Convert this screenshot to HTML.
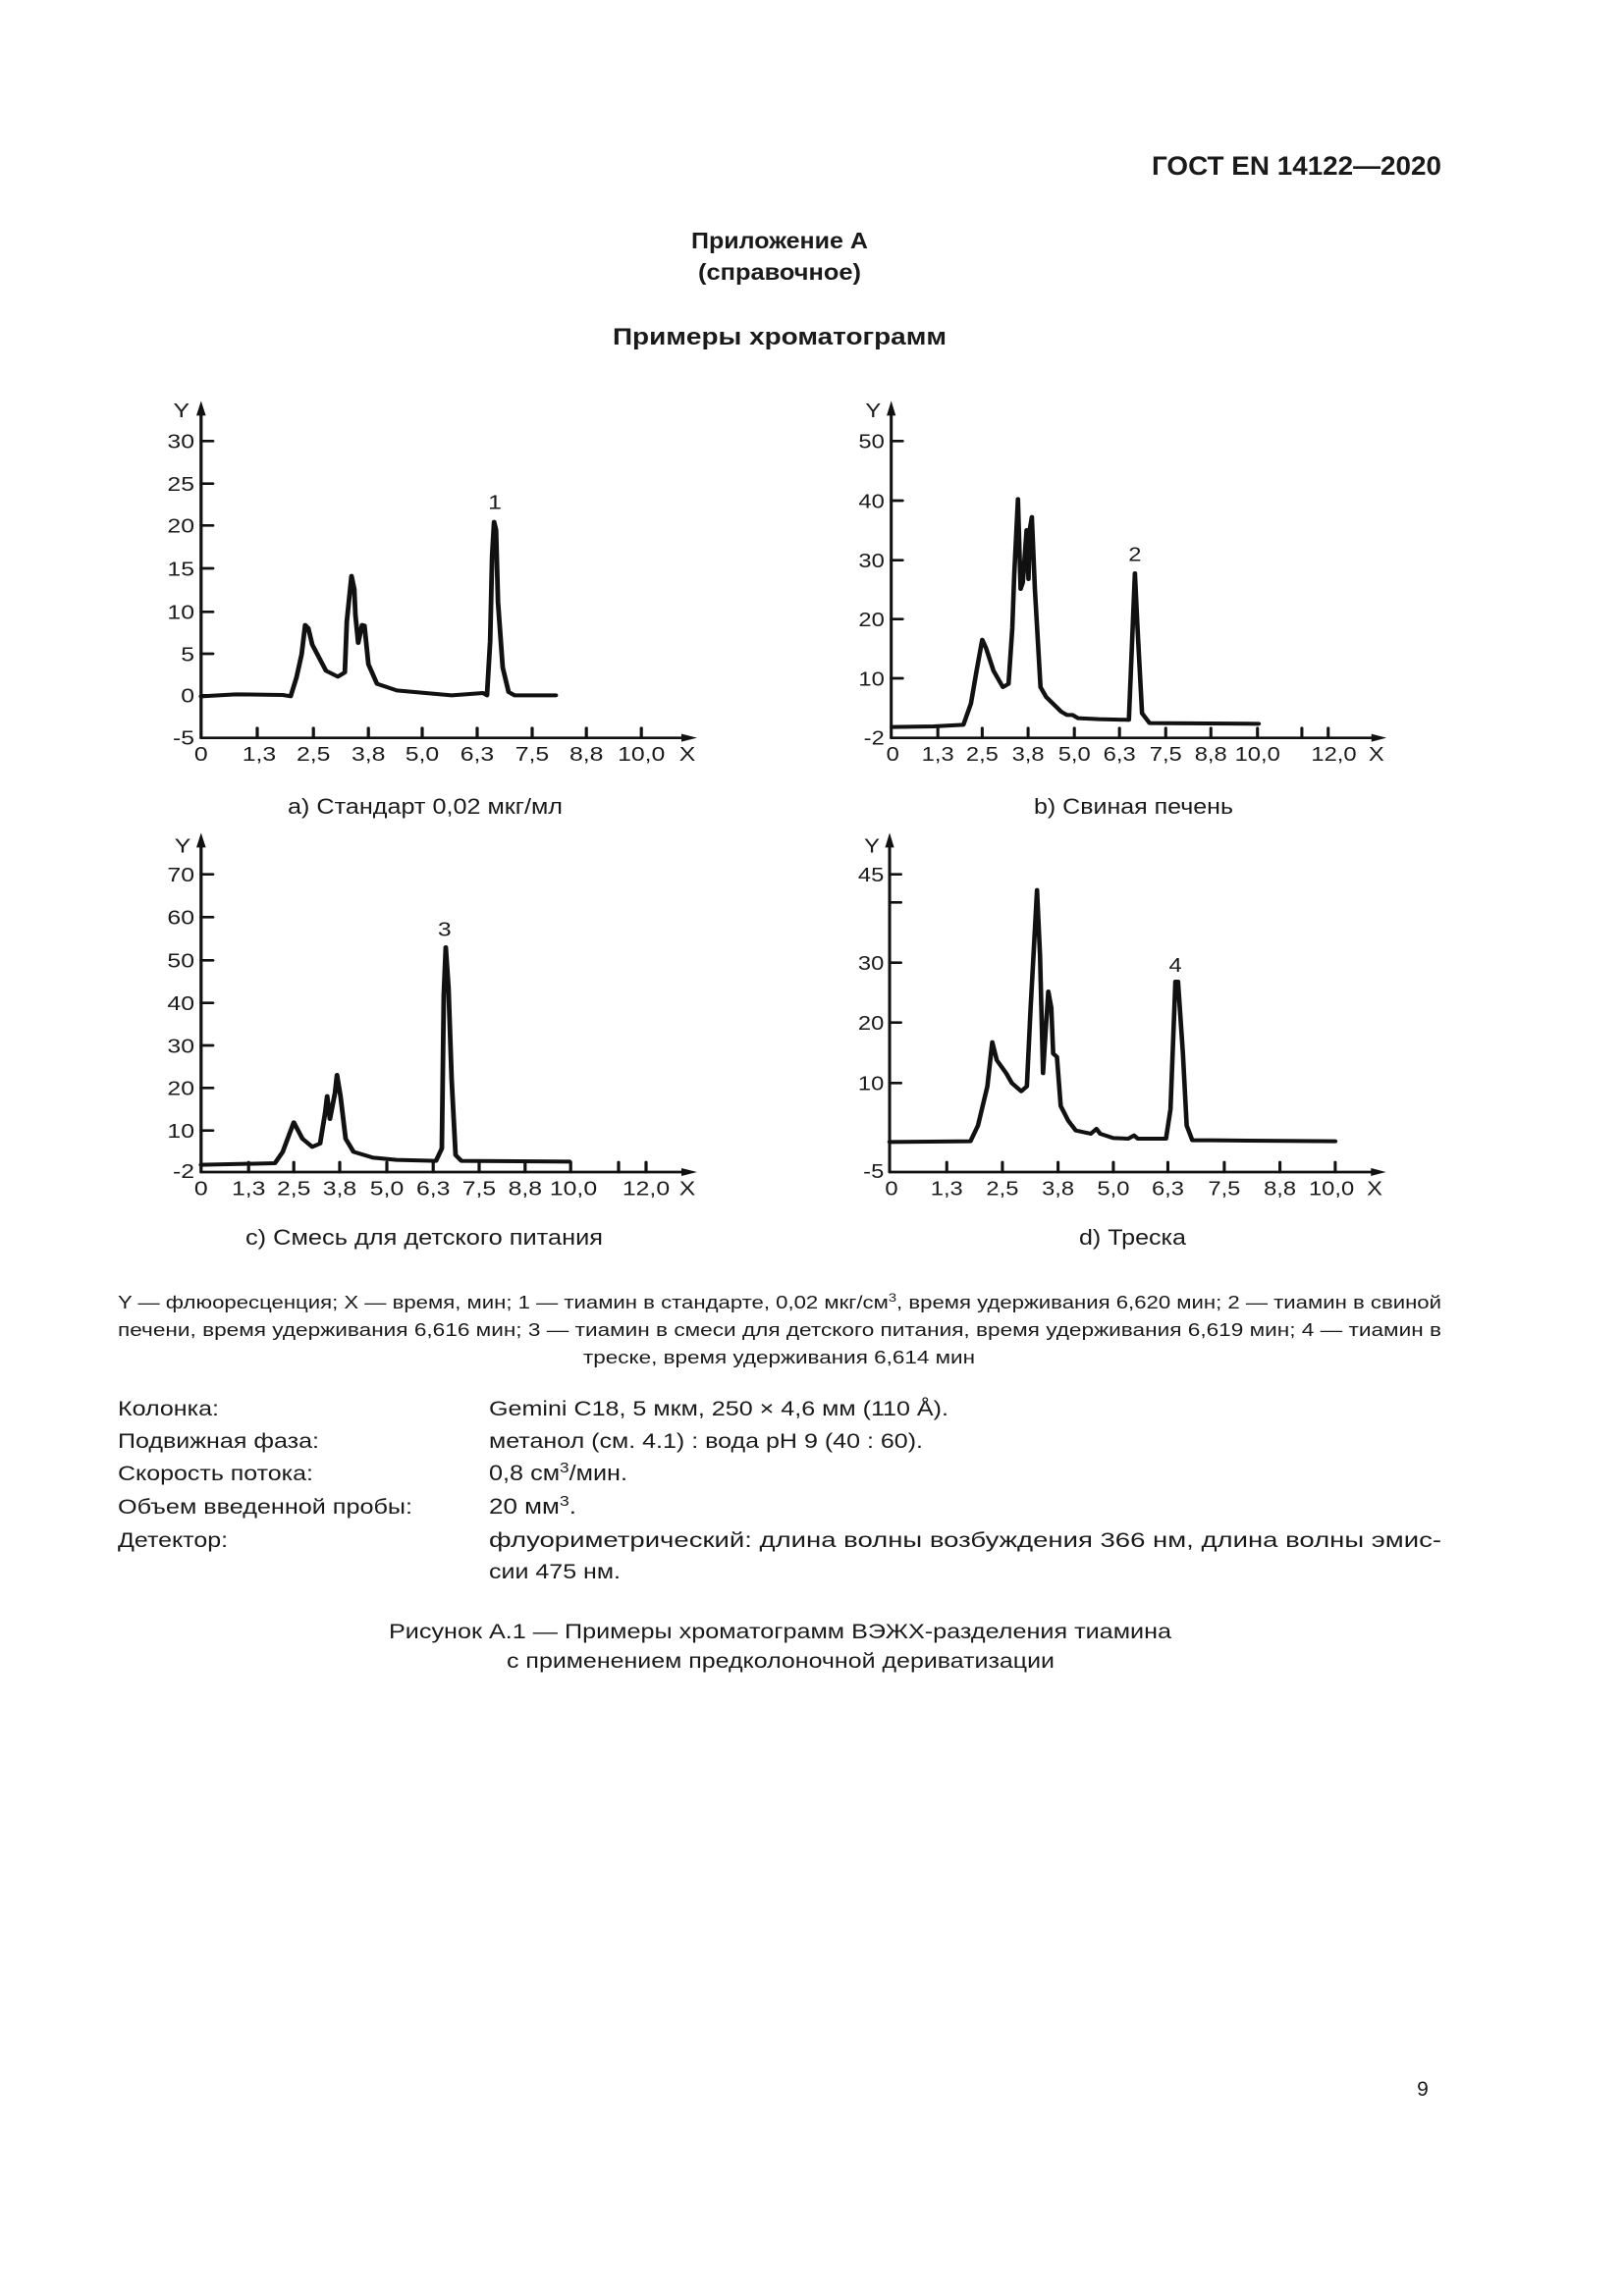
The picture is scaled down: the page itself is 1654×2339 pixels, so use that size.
<!DOCTYPE html>
<html><head><meta charset="utf-8"><style>
html,body{margin:0;padding:0;background:#fff}
svg{display:block}
text{font-family:"Liberation Sans",Arial,sans-serif;fill:#1a1a1a}
.b{font-weight:bold}
</style></head><body>
<svg width="1654" height="2339" viewBox="0 0 1654 2339" xmlns="http://www.w3.org/2000/svg">
<rect width="1654" height="2339" fill="#fff"/>
<text class="b" x="1173" y="178" font-size="27" textLength="295" lengthAdjust="spacingAndGlyphs">ГОСТ EN 14122—2020</text>
<text class="b" x="704" y="253" font-size="23" textLength="180" lengthAdjust="spacingAndGlyphs">Приложение А</text>
<text class="b" x="711" y="285" font-size="23" textLength="166" lengthAdjust="spacingAndGlyphs">(справочное)</text>
<text class="b" x="624" y="351" font-size="24" textLength="340" lengthAdjust="spacingAndGlyphs">Примеры хроматограмм</text>

<g fill="none" stroke="#111" stroke-linejoin="round" stroke-linecap="round">
<!-- Chart a -->
<g transform="translate(100,400) scale(0.4,0.33333)">
 <g stroke-width="8">
  <line x1="262" y1="1055" x2="262" y2="45"/>
  <line x1="262" y1="1055" x2="1495" y2="1055"/>
  <path d="M262 148h30M262 278h30M262 406h30M262 537h30M262 670h30M262 798h30M262 925h30"/>
  <path d="M405 1025v30M548 1025v30M688 1025v30M825 1025v30M965 1025v30M1105 1025v30M1243 1025v30M1383 1025v30"/>
 </g>
 <polygon points="262,25 250,70 274,70" fill="#111" stroke="none"/>
 <polygon points="1525,1055 1485,1043 1485,1067" fill="#111" stroke="none"/>
 <polyline stroke-width="12" points="262,928 350,922 470,924 490,928 505,870 518,800 527,710 535,720 545,770 580,850 610,868 628,855 633,700 645,560 652,600 655,680 662,765 672,710 678,712 688,830 710,890 760,910 900,925 980,918 990,925 998,760 1003,500 1008,395 1013,420 1018,640 1030,840 1045,915 1060,925 1165,925"/>
</g>
<!-- Chart b -->
<g transform="translate(851,400) scale(0.383,0.33333)">
 <g stroke-width="8">
  <line x1="148" y1="1055" x2="148" y2="45"/>
  <line x1="148" y1="1055" x2="1435" y2="1055"/>
  <path d="M148 148h30M148 330h30M148 512h30M148 692h30M148 873h30"/>
  <path d="M272 1025v30M390 1025v30M512 1025v30M635 1025v30M755 1025v30M878 1025v30M998 1025v30M1122 1025v30M1240 1025v30M1310 1025v30"/>
 </g>
 <polygon points="148,25 136,70 160,70" fill="#111" stroke="none"/>
 <polygon points="1465,1055 1425,1043 1425,1067" fill="#111" stroke="none"/>
 <polyline stroke-width="12" points="150,1022 260,1020 340,1015 360,950 375,850 390,755 400,780 420,850 445,900 460,890 470,720 475,560 485,325 492,600 498,580 508,420 513,570 517,415 522,380 530,600 545,900 560,930 600,975 615,985 630,985 645,995 700,998 780,1000 790,720 796,552 803,720 815,980 835,1010 1125,1012"/>
</g>
<!-- Chart c -->
<g transform="translate(100,840) scale(0.4,0.33333)">
 <g stroke-width="8">
  <line x1="262" y1="1062" x2="262" y2="45"/>
  <line x1="262" y1="1062" x2="1495" y2="1062"/>
  <path d="M262 152h30M262 283h30M262 415h30M262 545h30M262 675h30M262 805h30M262 935h30"/>
  <path d="M383 1032v30M498 1032v30M615 1032v30M735 1032v30M853 1032v30M970 1032v30M1087 1032v30M1203 1032v30M1325 1032v30M1395 1032v30"/>
 </g>
 <polygon points="262,25 250,70 274,70" fill="#111" stroke="none"/>
 <polygon points="1525,1062 1485,1050 1485,1074" fill="#111" stroke="none"/>
 <polyline stroke-width="12" points="262,1040 450,1035 470,1000 498,910 520,960 545,985 565,975 578,880 583,830 590,900 603,820 608,765 617,830 630,960 650,1000 700,1018 760,1025 860,1028 875,990 880,520 885,375 892,500 900,780 910,1010 925,1028 1200,1030"/>
</g>
<!-- Chart d -->
<g transform="translate(850.5,840) scale(0.383,0.33333)">
 <g stroke-width="8">
  <line x1="145" y1="1062" x2="145" y2="45"/>
  <line x1="145" y1="1062" x2="1435" y2="1062"/>
  <path d="M145 152h30M145 238h30M145 422h30M145 605h30M145 790h30"/>
  <path d="M297 1032v30M445 1032v30M593 1032v30M740 1032v30M885 1032v30M1035 1032v30M1183 1032v30M1330 1032v30"/>
 </g>
 <polygon points="145,25 133,70 157,70" fill="#111" stroke="none"/>
 <polygon points="1465,1062 1425,1050 1425,1074" fill="#111" stroke="none"/>
 <polyline stroke-width="12" points="145,970 360,968 380,920 405,800 418,665 430,720 455,760 470,790 495,815 510,800 520,560 530,350 537,200 545,400 553,760 560,630 567,510 575,560 580,700 590,710 600,860 620,905 640,935 680,945 695,930 705,945 740,958 780,960 795,950 805,960 880,960 892,870 905,480 912,480 925,700 935,920 950,965 1000,965 1330,968"/>
</g>
</g>

<!-- Chart labels -->
<g font-size="62" text-anchor="middle">
<g transform="translate(100,400) scale(0.4,0.33333)">
 <text x="212" y="75">Y</text>
 <g text-anchor="end"><text x="245" y="170">30</text><text x="245" y="300">25</text><text x="245" y="428">20</text><text x="245" y="559">15</text><text x="245" y="692">10</text><text x="245" y="820">5</text><text x="245" y="947">0</text><text x="245" y="1075">-5</text></g>
 <text x="262" y="1125">0</text><text x="410" y="1125">1,3</text><text x="548" y="1125">2,5</text><text x="688" y="1125">3,8</text><text x="825" y="1125">5,0</text><text x="965" y="1125">6,3</text><text x="1105" y="1125">7,5</text><text x="1243" y="1125">8,8</text><text x="1383" y="1125">10,0</text><text x="1500" y="1125">X</text>
 <text x="1010" y="355">1</text>
</g>
<g transform="translate(851,400) scale(0.383,0.33333)">
 <text x="100" y="75">Y</text>
 <g text-anchor="end"><text x="130" y="170">50</text><text x="130" y="352">40</text><text x="130" y="534">30</text><text x="130" y="714">20</text><text x="130" y="895">10</text><text x="130" y="1075">-2</text></g>
 <text x="152" y="1125">0</text><text x="272" y="1125">1,3</text><text x="390" y="1125">2,5</text><text x="512" y="1125">3,8</text><text x="635" y="1125">5,0</text><text x="755" y="1125">6,3</text><text x="878" y="1125">7,5</text><text x="998" y="1125">8,8</text><text x="1122" y="1125">10,0</text><text x="1325" y="1125">12,0</text><text x="1438" y="1125">X</text>
 <text x="796" y="515">2</text>
</g>
<g transform="translate(100,840) scale(0.4,0.33333)">
 <text x="215" y="85">Y</text>
 <g text-anchor="end"><text x="245" y="174">70</text><text x="245" y="305">60</text><text x="245" y="437">50</text><text x="245" y="567">40</text><text x="245" y="697">30</text><text x="245" y="827">20</text><text x="245" y="957">10</text><text x="245" y="1080">-2</text></g>
 <text x="262" y="1132">0</text><text x="383" y="1132">1,3</text><text x="498" y="1132">2,5</text><text x="615" y="1132">3,8</text><text x="735" y="1132">5,0</text><text x="853" y="1132">6,3</text><text x="970" y="1132">7,5</text><text x="1087" y="1132">8,8</text><text x="1210" y="1132">10,0</text><text x="1395" y="1132">12,0</text><text x="1500" y="1132">X</text>
 <text x="882" y="340">3</text>
</g>
<g transform="translate(850.5,840) scale(0.383,0.33333)">
 <text x="98" y="85">Y</text>
 <g text-anchor="end"><text x="130" y="174">45</text><text x="130" y="444">30</text><text x="130" y="627">20</text><text x="130" y="812">10</text><text x="130" y="1080">-5</text></g>
 <text x="150" y="1132">0</text><text x="297" y="1132">1,3</text><text x="445" y="1132">2,5</text><text x="593" y="1132">3,8</text><text x="740" y="1132">5,0</text><text x="885" y="1132">6,3</text><text x="1035" y="1132">7,5</text><text x="1183" y="1132">8,8</text><text x="1320" y="1132">10,0</text><text x="1435" y="1132">X</text>
 <text x="905" y="450">4</text>
</g>
</g>

<g font-size="22">
<text x="293" y="829" textLength="280" lengthAdjust="spacingAndGlyphs">a) Стандарт 0,02 мкг/мл</text>
<text x="1053" y="829" textLength="203" lengthAdjust="spacingAndGlyphs">b) Свиная печень</text>
<text x="250" y="1268" textLength="364" lengthAdjust="spacingAndGlyphs">c) Смесь для детского питания</text>
<text x="1099" y="1268" textLength="109" lengthAdjust="spacingAndGlyphs">d) Треска</text>
</g>

<g font-size="18">
<text x="120" y="1333" textLength="1348" lengthAdjust="spacingAndGlyphs">Y — флюоресценция; X — время, мин; 1 — тиамин в стандарте, 0,02 мкг/см<tspan font-size="12" dy="-7">3</tspan><tspan dy="7">, время удерживания 6,620 мин; 2 — тиамин в свиной</tspan></text>
<text x="120" y="1361" textLength="1348" lengthAdjust="spacingAndGlyphs">печени, время удерживания 6,616 мин; 3 — тиамин в смеси для детского питания, время удерживания 6,619 мин; 4 — тиамин в</text>
<text x="594" y="1389" textLength="399" lengthAdjust="spacingAndGlyphs">треске, время удерживания 6,614 мин</text>
</g>

<g font-size="21">
<text x="120" y="1442" textLength="103" lengthAdjust="spacingAndGlyphs">Колонка:</text>
<text x="120" y="1475" textLength="205" lengthAdjust="spacingAndGlyphs">Подвижная фаза:</text>
<text x="120" y="1508" textLength="199" lengthAdjust="spacingAndGlyphs">Скорость потока:</text>
<text x="120" y="1542" textLength="300" lengthAdjust="spacingAndGlyphs">Объем введенной пробы:</text>
<text x="120" y="1576" textLength="112" lengthAdjust="spacingAndGlyphs">Детектор:</text>
<text x="498" y="1442" textLength="468" lengthAdjust="spacingAndGlyphs">Gemini C18, 5 мкм, 250 × 4,6 мм (110 Å).</text>
<text x="498" y="1475" textLength="442" lengthAdjust="spacingAndGlyphs">метанол (см. 4.1) : вода pH 9 (40 : 60).</text>
<text x="498" y="1508" font-size="22" textLength="141" lengthAdjust="spacingAndGlyphs">0,8 см<tspan font-size="15" dy="-8">3</tspan><tspan font-size="22" dy="8">/мин.</tspan></text>
<text x="498" y="1542" font-size="22" textLength="89" lengthAdjust="spacingAndGlyphs">20 мм<tspan font-size="15" dy="-8">3</tspan><tspan font-size="22" dy="8">.</tspan></text>
<text x="498" y="1576" textLength="970" lengthAdjust="spacingAndGlyphs">флуориметрический:  длина  волны  возбуждения  366  нм,  длина  волны  эмис-</text>
<text x="498" y="1608" textLength="134" lengthAdjust="spacingAndGlyphs">сии 475 нм.</text>
<text x="396" y="1669" textLength="797" lengthAdjust="spacingAndGlyphs">Рисунок А.1 — Примеры хроматограмм ВЭЖХ-разделения тиамина</text>
<text x="516" y="1699" textLength="558" lengthAdjust="spacingAndGlyphs">с применением предколоночной дериватизации</text>
<text x="1449" y="2135" text-anchor="middle">9</text>
</g>
</svg>
</body></html>
